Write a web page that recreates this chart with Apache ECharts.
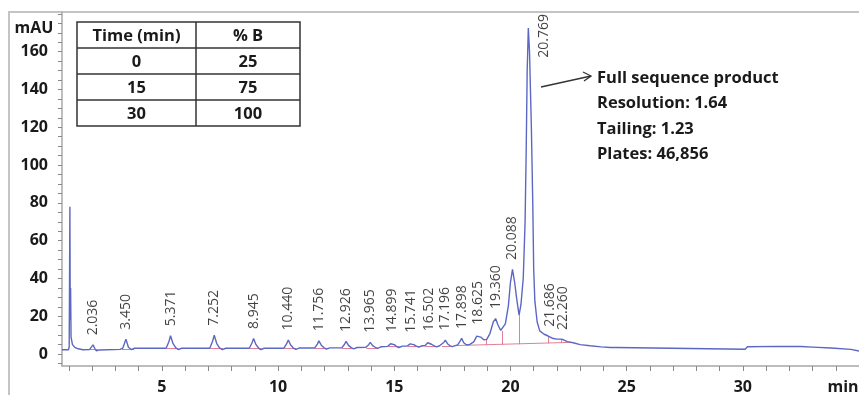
<!DOCTYPE html>
<html><head><meta charset="utf-8">
<script src="https://cdn.jsdelivr.net/npm/echarts@6/dist/echarts.min.js"></script>
<style>html,body{margin:0;padding:0;background:#fff}#c{width:859px;height:395px}</style>
</head><body><div id="c"></div>
<script>
// ---- chromatogram trace ----
const traceTime = [0.70,0.98,1.01,1.04,1.055,1.07,1.09,1.15,1.25,1.40,1.60,1.88,
  2.036,2.12,2.18,2.30,3.20,3.32,3.45,3.56,3.68,3.82,
  5.18,5.30,5.371,5.48,5.60,5.70,5.85,
  7.06,7.18,7.252,7.36,7.48,7.60,7.75,
  8.76,8.88,8.945,9.05,9.16,9.26,9.40,
  10.25,10.37,10.44,10.54,10.66,10.76,10.90,
  11.57,11.69,11.756,11.86,11.98,12.08,12.22,
  12.74,12.86,12.926,13.03,13.15,13.25,13.40,
  13.78,13.90,13.965,14.07,14.18,14.28,14.45,
  14.72,14.84,14.899,15.00,15.10,15.20,15.35,
  15.56,15.68,15.741,15.84,15.95,16.05,16.20,
  16.32,16.44,16.502,16.60,16.72,16.82,16.95,
  17.03,17.14,17.196,17.29,17.40,17.50,17.62,
  17.72,17.84,17.898,17.99,18.10,18.25,
  18.42,18.55,18.625,18.72,18.85,18.98,
  19.12,19.26,19.36,19.46,19.58,19.66,19.78,19.91,20.00,20.088,20.18,20.26,20.37,
  20.45,20.55,20.63,20.68,20.72,20.769,20.82,20.90,20.96,21.00,21.05,21.15,21.26,
  21.45,21.60,21.686,21.80,22.00,22.15,22.26,22.45,22.70,23.00,23.43,23.90,24.30,
  24.55,24.60,30.10,30.20,31.50,32.50,33.00,33.80,33.85,34.65,34.70,35.00];
const traceMAU = [2.3,2.3,4,78,18,35,9,5,3.6,2.8,2.3,2.4,
  4.9,2.8,1.7,2.2,2.5,3.2,7.9,3.6,2.4,3.1,
  3.1,6.5,9.7,5.5,3.3,2.4,3.1,
  3.1,6.8,10,5.6,3.3,2.4,3.1,
  3.1,6.0,8.3,5.0,3.2,2.4,3.1,
  3.1,5.5,7.5,4.8,3.2,2.5,3.2,
  3.2,5.3,7.0,4.7,3.3,2.6,3.3,
  3.3,5.2,6.7,4.6,3.4,2.8,3.5,
  3.6,5.0,6.2,4.5,3.6,3.0,3.9,
  4.1,5.5,6.5,5.0,4.0,3.5,4.2,
  4.3,5.4,6.2,5.0,4.2,3.7,4.4,
  4.4,6.0,7.0,5.2,4.3,3.8,4.4,
  4.5,6.3,7.4,5.5,4.4,3.9,4.5,
  4.8,7.0,8.3,6.0,4.9,5.1,
  6.5,9.5,10.5,9.0,7.6,7.8,
  11,17,18.8,15.5,12.5,12.2,16,25.5,38,44.8,38,30,20.6,
  26,40,70,110,150,172.5,160,120,80,45,28,17,12.3,
  10.5,9.7,9.4,8.4,7.9,7.9,7.7,6.6,6.0,5.0,4.4,3.8,3.5,
  3.5,2.6,2.6,3.9,4.1,4.0,3.7,3.2,2.5,2.5,1.7,1.6];

// ---- labelled peaks ----
const peakTimes   = [2.036,3.450,5.371,7.252,8.945,10.440,11.756,12.926,13.965,14.899,15.741,16.502,17.196,17.898,18.625,19.360,20.088,20.769,21.686,22.260];
const peakHeights = [4.9,7.9,9.7,10,8.3,7.5,7.0,6.7,6.2,6.5,6.2,7.0,7.4,8.3,10.5,18.8,44.8,172.5,9.4,7.7];
const peakLabels  = ['2.036','3.450','5.371','7.252','8.945','10.440','11.756','12.926','13.965','14.899','15.741','16.502','17.196','17.898','18.625','19.360','20.088','20.769','21.686','22.260'];

// ---- integration baselines [t0, v0, t1, v1] and drop lines [t, vLow, vHigh] ----
const baseSegments = [[1.85,2.3,2.25,2.3],[3.28,2.7,3.80,2.8],[5.20,2.9,5.72,2.9],[7.08,2.9,7.62,2.9],
  [8.78,2.9,9.28,2.9],[10.27,3.0,10.78,3.0],[11.59,3.0,12.10,3.0],[12.76,3.1,13.27,3.1],
  [13.80,3.3,14.30,3.3],[14.74,3.9,15.22,3.9],[15.58,4.0,16.07,4.0],[16.34,4.1,16.84,4.1],
  [17.05,4.2,17.52,4.2],[17.60,4.5,22.60,6.2]];
const dropLines = [[18.15,4.6,4.9],[18.95,4.8,7.8],[19.66,4.9,12.2],[20.37,5.2,20.6],[21.62,5.7,9.7],[22.19,5.9,7.9],[22.53,6.1,6.4]];

// ---- axes ----
const xTickValues = [1,2,3,4,5,6,7,8,9,10,11,12,13,14,15,16,17,18,19,20,21,22,23,24,25,26,27,28,29,30,31,32,33,34];
const xLabelValues = [5,10,15,20,25,30];
const yTickValues = [-5,0,5,10,15,20,25,30,35,40,45,50,55,60,65,70,75,80,85,90,95,100,105,110,115,120,125,130,135,140,145,150,155,160,165,170,175,180];
const yLabelValues = [0,20,40,60,80,100,120,140,160];

// ---- texts ----
const tableHeader = ['Time (min)','% B'];
const gradientTime = ['0','15','30'];
const gradientB = ['25','75','100'];
const annotationLines = ['Full sequence product','Resolution: 1.64','Tailing: 1.23','Plates: 46,856'];

const FONT = '"Open Sans", "Liberation Sans", sans-serif';
const chart = echarts.init(document.getElementById('c'));

const trace = traceTime.map((t, i) => [t, traceMAU[i]]);
const peaks = peakTimes.map((t, i) => {
  const item = { value: [t, peakHeights[i]], name: peakLabels[i] };
  if (peakLabels[i] === '20.769') {
    item.label = { position: 'right', align: 'right', verticalAlign: 'top', distance: 8, offset: [14, 0] };
  }
  return item;
});
const segData = baseSegments.map(s => ({ coords: [[s[0], s[1]], [s[2], s[3]]] }))
  .concat(dropLines.map(d => ({ coords: [[d[0], d[1]], [d[0], d[2]]] })));

// table graphics
const tX = 77, tY = 22, tW = 223, rowH = 26, colX = 196;
const tableEls = [
  { type: 'rect', shape: { x: tX, y: tY, width: tW, height: rowH * 4 }, style: { fill: '#fff', stroke: '#333', lineWidth: 1.5 } },
  { type: 'line', shape: { x1: colX, y1: tY, x2: colX, y2: tY + rowH * 4 }, style: { stroke: '#333', lineWidth: 1.5 } }
];
for (let r = 1; r < 4; r++) {
  tableEls.push({ type: 'line', shape: { x1: tX, y1: tY + rowH * r, x2: tX + tW, y2: tY + rowH * r }, style: { stroke: '#333', lineWidth: 1.5 } });
}
const rowsText = [tableHeader].concat(gradientTime.map((t, i) => [t, gradientB[i]]));
rowsText.forEach((row, r) => {
  tableEls.push({ type: 'text', x: (tX + colX) / 2, y: tY + rowH * r + rowH / 2 + 1,
    style: { text: row[0], font: 'bold 16.5px ' + FONT, fill: '#1a1a1a', align: 'center', verticalAlign: 'middle' } });
  tableEls.push({ type: 'text', x: (colX + tX + tW) / 2, y: tY + rowH * r + rowH / 2 + 1,
    style: { text: row[1], font: 'bold 16.5px ' + FONT, fill: '#1a1a1a', align: 'center', verticalAlign: 'middle' } });
});

const annoEls = annotationLines.map((s, i) => ({
  type: 'text', x: 597, y: 78 + i * 25.5,
  style: { text: s, font: 'bold 16.5px ' + FONT, fill: '#1a1a1a', align: 'left', verticalAlign: 'middle' }
}));
annoEls.push({ type: 'line', shape: { x1: 541, y1: 87, x2: 591, y2: 76 }, style: { stroke: '#333', lineWidth: 1.3 } });
annoEls.push({ type: 'polyline', shape: { points: [[583, 72], [591, 76], [584, 81]] }, style: { stroke: '#333', lineWidth: 1.3, fill: null } });

chart.setOption({
  animation: false,
  backgroundColor: '#fff',
  grid: { left: 62, right: 0, top: 12, bottom: 28 },
  xAxis: {
    type: 'value', min: 0.7, max: 35,
    axisLine: { show: true, onZero: false, lineStyle: { color: '#a8a8a8', width: 1.5 } },
    axisTick: { show: true, customValues: xTickValues, length: 5, lineStyle: { color: '#888' } },
    axisLabel: { customValues: xLabelValues, margin: 13, fontFamily: FONT, fontWeight: 'bold', fontSize: 16, color: '#1a1a1a' },
    splitLine: { show: false }
  },
  yAxis: {
    type: 'value', min: -6.3, max: 181,
    axisLine: { show: true, onZero: false, lineStyle: { color: '#a8a8a8', width: 1.5 } },
    axisTick: { show: true, customValues: yTickValues, length: 4, lineStyle: { color: '#888' } },
    axisLabel: { customValues: yLabelValues, margin: 14, fontFamily: FONT, fontWeight: 'bold', fontSize: 16, color: '#1a1a1a' },
    splitLine: { show: false }
  },
  graphic: [
    { type: 'rect', z: -10, shape: { x: 9, y: 12, width: 900, height: 420 }, style: { fill: 'none', stroke: '#c4c4c4', lineWidth: 2 } },
    { type: 'text', x: 34, y: 28, style: { text: 'mAU', font: 'bold 16px ' + FONT, fill: '#1a1a1a', align: 'center', verticalAlign: 'middle' } },
    { type: 'text', x: 843, y: 387, style: { text: 'min', font: 'bold 16px ' + FONT, fill: '#1a1a1a', align: 'center', verticalAlign: 'middle' } }
  ].concat(tableEls, annoEls),
  series: [
    { type: 'lines', coordinateSystem: 'cartesian2d', data: segData, silent: true,
      lineStyle: { color: '#e0708e', width: 1, opacity: 0.9 }, z: 2 },
    { type: 'line', data: trace, showSymbol: false, symbol: 'none', z: 3,
      lineStyle: { color: '#5c67c4', width: 1.4 } },
    { type: 'scatter', data: peaks, symbolSize: 1, itemStyle: { color: 'rgba(0,0,0,0)' }, z: 4,
      label: { show: true, formatter: p => p.name, rotate: 90, position: 'top', distance: 9,
        align: 'left', verticalAlign: 'middle', fontFamily: FONT, fontSize: 14, color: '#111' } }
  ]
});
</script></body></html>
